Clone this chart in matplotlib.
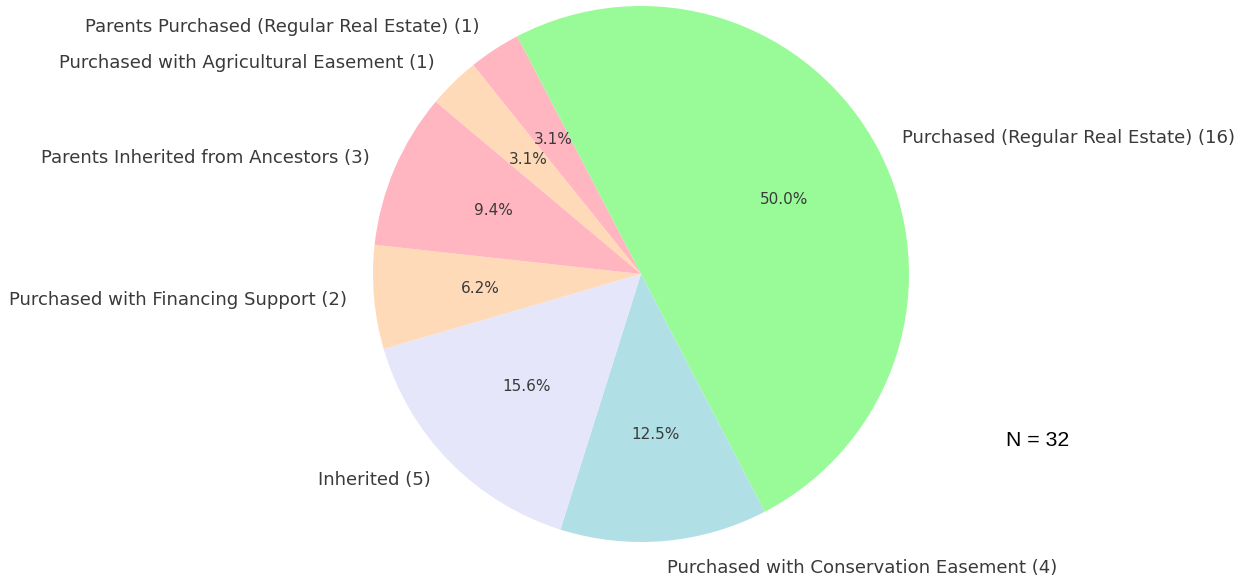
import matplotlib
matplotlib.use("Agg")
import matplotlib.pyplot as plt

labels = [
    "Purchased with Agricultural Easement (1)",
    "Parents Purchased (Regular Real Estate) (1)",
    "Purchased (Regular Real Estate) (16)",
    "Purchased with Conservation Easement (4)",
    "Inherited (5)",
    "Purchased with Financing Support (2)",
    "Parents Inherited from Ancestors (3)",
]
counts = [1, 1, 16, 4, 5, 2, 3]
colors = ["#FFDAB9", "#FFB6C1", "#98FB98", "#B0E0E6", "#E6E6FA"]
total_label = "N = 32"

W, H = 1245, 581
fig = plt.figure(figsize=(W / 100, H / 100), dpi=100)
cx, cy, r = 641, 581 - 274, 268
ax = fig.add_axes([(cx - r) / W, (cy - r) / H, 2 * r / W, 2 * r / H])
wedges, texts, autotexts = ax.pie(
    counts, labels=labels, colors=colors, autopct="%1.1f%%",
    startangle=140, counterclock=False,
    textprops={"fontsize": 13.1, "color": "#3a3a3a"},
)
for t in autotexts:
    t.set_fontsize(11)
ax.set_xlim(-1, 1)
ax.set_ylim(-1, 1)
ax.set_aspect("equal")

fig.text(1038 / W, 1 - 440 / H, total_label, fontsize=15.3, color="black",
         family="Liberation Sans", ha="center", va="center")

fig.savefig("out.png", dpi=100)
